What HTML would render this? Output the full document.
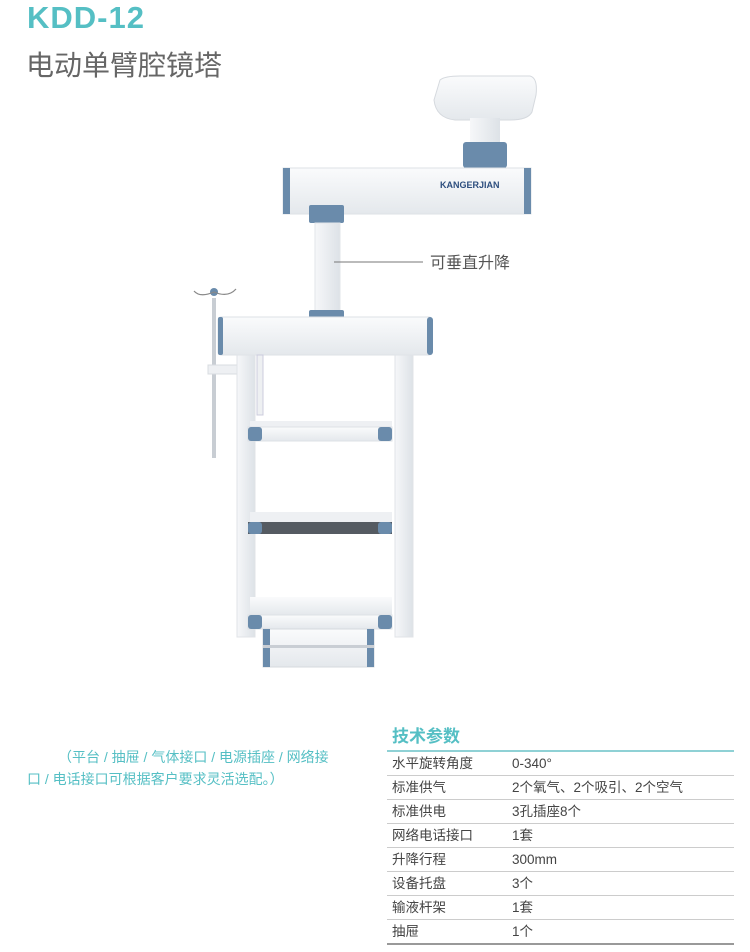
<!DOCTYPE html>
<html><head><meta charset="utf-8"><style>
body{margin:0;width:750px;height:952px;background:#fff;position:relative;overflow:hidden;font-family:"Liberation Sans","Noto Sans CJK SC",sans-serif}
.a{position:absolute}
.t{color:#55bfc4}
table{border-collapse:collapse}
td{padding:0;height:23px;border-bottom:1px solid #ccc;line-height:23px}
td:first-child{padding-left:5px;width:120px}
</style></head><body>
<div class="a t" style="left:27px;top:0px;font-size:31px;font-weight:bold;letter-spacing:1px">KDD-12</div>
<div class="a" style="left:26px;top:44px;font-size:28px;color:#666">电动单臂腔镜塔</div>

<svg class="a" style="left:0;top:0" width="750" height="700">
<defs>
<linearGradient id="g" x1="0" y1="0" x2="0" y2="1"><stop offset="0" stop-color="#fafbfc"/><stop offset="1" stop-color="#e4e8ec"/></linearGradient>
<linearGradient id="gv" x1="0" y1="0" x2="1" y2="0"><stop offset="0" stop-color="#f6f7f9"/><stop offset="1" stop-color="#dde2e7"/></linearGradient>
</defs>
<path d="M440 80 Q445 76 460 76 L530 76 Q538 78 536 95 L532 112 Q528 120 510 120 L455 120 Q436 118 434 100 Z" fill="url(#g)" stroke="#d5d9de"/>
<rect x="470" y="118" width="30" height="26" fill="url(#gv)"/>
<rect x="463" y="142" width="44" height="26" rx="3" fill="#6a8bab"/>
<rect x="283" y="168" width="248" height="46" fill="url(#g)" stroke="#dde1e6"/>
<rect x="283" y="168" width="7" height="46" fill="#6a8bab"/>
<rect x="524" y="168" width="7" height="46" fill="#6a8bab"/>
<text x="440" y="188" font-family="Liberation Sans" font-weight="bold" font-size="9" fill="#2d4e7e">KANGERJIAN</text>
<rect x="309" y="205" width="35" height="18" rx="2" fill="#6a8bab"/>
<rect x="315" y="223" width="25" height="88" fill="url(#gv)" stroke="#e2e5e9"/>
<rect x="309" y="310" width="35" height="9" rx="2" fill="#6a8bab"/>
<line x1="334" y1="262" x2="423" y2="262" stroke="#777" stroke-width="1"/>
<rect x="212" y="298" width="4" height="160" fill="#c8cdd3"/>
<circle cx="214" cy="292" r="4" fill="#6a8bab"/>
<path d="M194 291 Q200 298 214 292 Q228 298 236 289" fill="none" stroke="#888" stroke-width="1.2"/>
<rect x="208" y="365" width="30" height="9" fill="#eef0f3" stroke="#d8dce0"/>
<rect x="218" y="317" width="214" height="38" rx="3" fill="url(#g)" stroke="#dde1e6"/>
<rect x="218" y="317" width="5" height="38" rx="2" fill="#6a8bab"/>
<rect x="427" y="317" width="6" height="38" rx="3" fill="#6a8bab"/>
<rect x="237" y="355" width="18" height="282" fill="url(#gv)" stroke="#e0e3e7"/>
<rect x="395" y="355" width="18" height="282" fill="url(#gv)" stroke="#e0e3e7"/>
<rect x="257" y="355" width="6" height="60" fill="#eef0f2" stroke="#ccd"/>
<rect x="250" y="421" width="142" height="6" fill="#eef0f3"/>
<rect x="248" y="427" width="144" height="14" fill="url(#g)" stroke="#dde1e6"/>
<rect x="248" y="427" width="14" height="14" rx="3" fill="#6a8bab"/>
<rect x="378" y="427" width="14" height="14" rx="3" fill="#6a8bab"/>
<rect x="250" y="512" width="142" height="10" fill="#eef0f3"/>
<rect x="248" y="522" width="144" height="12" fill="#555b62"/>
<rect x="248" y="522" width="14" height="12" rx="3" fill="#6a8bab"/>
<rect x="378" y="522" width="14" height="12" rx="3" fill="#6a8bab"/>
<rect x="250" y="597" width="142" height="18" fill="url(#g)"/>
<rect x="248" y="615" width="144" height="14" fill="url(#g)" stroke="#dde1e6"/>
<rect x="248" y="615" width="14" height="14" rx="3" fill="#6a8bab"/>
<rect x="378" y="615" width="14" height="14" rx="3" fill="#6a8bab"/>
<rect x="263" y="629" width="111" height="38" fill="url(#g)" stroke="#d5d9de"/>
<rect x="263" y="629" width="7" height="38" fill="#6a8bab"/>
<rect x="367" y="629" width="7" height="38" fill="#6a8bab"/>
<rect x="263" y="645" width="111" height="3" fill="#c9ced4"/>
</svg>
<div class="a" style="left:430px;top:249px;font-size:16px;color:#555">可垂直升降</div>

<div class="a t" style="left:58px;top:746px;font-size:14px;line-height:23px;width:320px">（平台 / 抽屉 / 气体接口 / 电源插座 / 网络接</div>
<div class="a t" style="left:27px;top:768px;font-size:14px;line-height:23px;width:340px">口 / 电话接口可根据客户要求灵活选配。）</div>

<div class="a t" style="left:392px;top:722px;font-size:17px;font-weight:bold">技术参数</div>
<div class="a" style="left:387px;top:750px;width:347px;height:2px;background:#8fd1d5"></div>
<table class="a" style="left:387px;top:752px;width:347px;font-size:13.5px;color:#444">
<tr><td>水平旋转角度</td><td>0-340°</td></tr>
<tr><td>标准供气</td><td>2个氧气、2个吸引、2个空气</td></tr>
<tr><td>标准供电</td><td>3孔插座8个</td></tr>
<tr><td>网络电话接口</td><td>1套</td></tr>
<tr><td>升降行程</td><td>300mm</td></tr>
<tr><td>设备托盘</td><td>3个</td></tr>
<tr><td>输液杆架</td><td>1套</td></tr>
<tr><td style="border-bottom:2px solid #999">抽屉</td><td style="border-bottom:2px solid #999">1个</td></tr>
</table>
</body></html>
